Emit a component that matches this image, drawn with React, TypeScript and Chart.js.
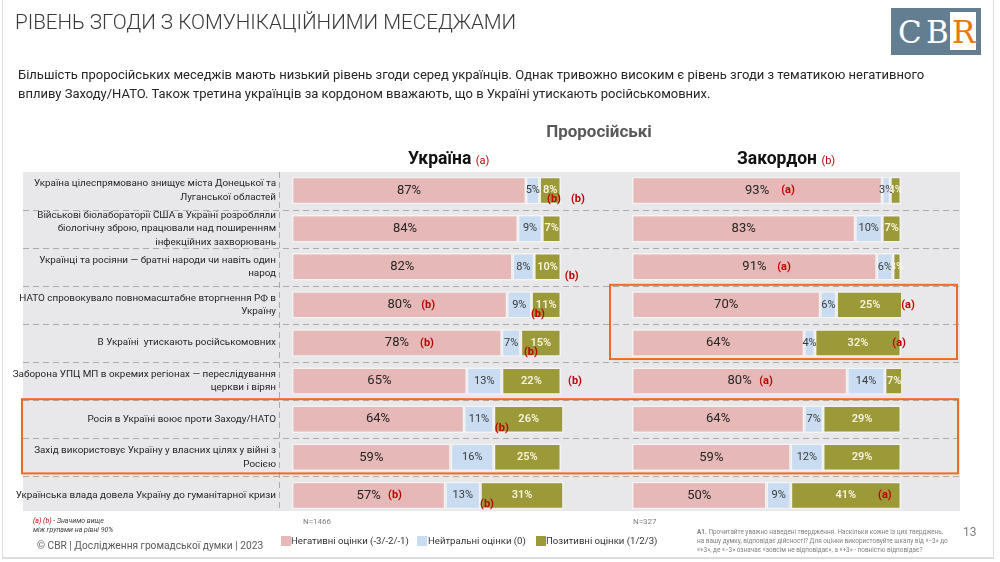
import React, { useEffect, useRef } from "react";
import { Chart, registerables } from "chart.js";
Chart.register(...registerables);

const statements: string[][] = [
  ["Україна цілеспрямовано знищує міста Донецької та", "Луганської областей"],
  ["Військові біолабораторії США в Україні розробляли", "біологічну зброю, працювали над поширенням", "інфекційних захворювань"],
  ["Українці та росіяни — братні народи чи навіть один", "народ"],
  ["НАТО спровокувало повномасштабне вторгнення РФ в", "Україну"],
  ["В Україні  утискають російськомовних"],
  ["Заборона УПЦ МП в окремих регіонах — переслідування", "церкви і вірян"],
  ["Росія в Україні воює проти Заходу/НАТО"],
  ["Захід використовує Україну у власних цілях у війні з", "Росією"],
  ["Українська влада довела Україну до гуманітарної кризи"],
];

const uaNegative = [87, 84, 82, 80, 78, 65, 64, 59, 57];
const uaNeutral = [5, 9, 8, 9, 7, 13, 11, 16, 13];
const uaPositive = [8, 7, 10, 11, 15, 22, 26, 25, 31];

const abNegative = [93, 83, 91, 70, 64, 80, 64, 59, 50];
const abNeutral = [3, 10, 6, 6, 4, 14, 7, 12, 9];
const abPositive = [4, 7, 3, 25, 32, 7, 29, 29, 41];

const seriesNames = ["Негативні оцінки (-3/-2/-1)", "Нейтральні оцінки (0)", "Позитивні оцінки (1/2/3)"];

// significance markers: row index, value position on the scale (%), lowered or not
const uaMarkers = [
  { row: 0, at: 97.4, low: true, text: "(b)" },
  { row: 0, at: 106.3, low: true, text: "(b)" },
  { row: 2, at: 104, low: true, text: "(b)" },
  { row: 3, at: 50.6, low: false, text: "(b)" },
  { row: 3, at: 91.4, low: true, text: "(b)" },
  { row: 4, at: 50.2, low: false, text: "(b)" },
  { row: 4, at: 88.8, low: true, text: "(b)" },
  { row: 5, at: 105.2, low: false, text: "(b)" },
  { row: 6, at: 78, low: true, text: "(b)" },
  { row: 8, at: 38.3, low: false, text: "(b)" },
  { row: 8, at: 72.5, low: true, text: "(b)" },
];
const abMarkers = [
  { row: 0, at: 58, low: false, text: "(a)" },
  { row: 2, at: 56.5, low: false, text: "(a)" },
  { row: 3, at: 102.6, low: false, text: "(a)" },
  { row: 4, at: 99.3, low: false, text: "(a)" },
  { row: 5, at: 49.8, low: false, text: "(a)" },
  { row: 8, at: 94, low: false, text: "(a)" },
];

const C_NEG = "#e6b8b7";
const C_NEU = "#c9dcf1";
const C_POS = "#9c9a38";
const FONT = "Roboto, 'Noto Sans', sans-serif";

const T: React.FC<{ x: number; y: number; size: number; color?: string; weight?: number; italic?: boolean; align?: "left" | "center" | "right"; children: React.ReactNode; family?: string }> = ({ x, y, size, color = "#333", weight = 400, italic, align = "left", children, family }) => {
  const style: React.CSSProperties = {
    position: "absolute",
    top: y - size * 0.6,
    fontSize: size,
    lineHeight: `${size * 1.2}px`,
    color,
    fontWeight: weight,
    fontStyle: italic ? "italic" : "normal",
    fontFamily: family || FONT,
    whiteSpace: "nowrap",
  };
  if (align === "left") style.left = x;
  else if (align === "center") { style.left = x; style.transform = "translateX(-50%)"; }
  else { style.right = 1000 - x; }
  return <div style={style}>{children}</div>;
};

export default function App() {
  const ref = useRef<HTMLCanvasElement | null>(null);

  useEffect(() => {
    document.body.style.margin = "0";
    const canvas = ref.current!;
    const bg = {
      id: "bg",
      beforeDraw(chart: any) {
        const ctx = chart.ctx;
        const y = chart.scales.y;
        ctx.save();
        ctx.fillStyle = "#e8e8ea";
        ctx.fillRect(23, 172, 937, 339);
        ctx.strokeStyle = "#ababab";
        ctx.lineWidth = 1;
        ctx.setLineDash([6, 4]);
        for (let i = 0; i < statements.length - 1; i++) {
          const yy = Math.round((y.getPixelForValue(i) + y.getPixelForValue(i + 1)) / 2) + 0.5;
          ctx.beginPath();
          ctx.moveTo(23, yy);
          ctx.lineTo(960, yy);
          ctx.stroke();
        }
        ctx.beginPath();
        ctx.moveTo(279.5, 172);
        ctx.lineTo(279.5, 511);
        ctx.stroke();
        ctx.restore();
      },
    };
    const labels = {
      id: "labels",
      afterDatasetsDraw(chart: any) {
        const ctx = chart.ctx;
        ctx.save();
        ctx.textAlign = "center";
        ctx.textBaseline = "middle";
        chart.data.datasets.forEach((ds: any, di: number) => {
          const meta = chart.getDatasetMeta(di);
          const kind = di % 3;
          meta.data.forEach((bar: any, i: number) => {
            const cx = (bar.x + bar.base) / 2;
            if (kind === 0) { ctx.font = `13px ${FONT}`; ctx.fillStyle = "#262626"; }
            else if (kind === 1) { ctx.font = `11px ${FONT}`; ctx.fillStyle = "#3a3a3a"; }
            else { ctx.font = `600 11px ${FONT}`; ctx.fillStyle = "#f6f3dc"; }
            ctx.fillText(ds.data[i] + "%", cx, bar.y);
          });
        });
        const y = chart.scales.y;
        ctx.font = `bold 11px ${FONT}`;
        ctx.fillStyle = "#c00000";
        const drawM = (list: any[], sc: any) => list.forEach((m) => {
          ctx.fillText(m.text, sc.getPixelForValue(m.at), y.getPixelForValue(m.row) + (m.low ? 9 : 0));
        });
        drawM(uaMarkers, chart.scales.xL);
        drawM(abMarkers, chart.scales.xR);
        // highlight boxes
        const b = (i: number) => (y.getPixelForValue(i) + y.getPixelForValue(i + 1)) / 2;
        ctx.strokeStyle = "#f26a21";
        ctx.lineWidth = 2;
        ctx.setLineDash([]);
        ctx.strokeRect(22, b(5) - 1, 936, b(7) - b(5) - 2);
        ctx.strokeRect(610, b(2) - 1, 347, b(4) - b(2) - 2);
        ctx.restore();
      },
    };
    const mk = (label: string, data: number[], color: string, axis: string) => ({
      label,
      data,
      backgroundColor: color,
      borderColor: "#f3f3f3",
      borderWidth: 1.5,
      borderSkipped: false,
      xAxisID: axis,
      stack: "s",
      barPercentage: 0.72,
      categoryPercentage: 1,
    });
    const chart = new Chart(canvas, {
      type: "bar",
      data: {
        labels: statements,
        datasets: [
          mk(seriesNames[0], uaNegative, C_NEG, "xL"),
          mk(seriesNames[1], uaNeutral, C_NEU, "xL"),
          mk(seriesNames[2], uaPositive, C_POS, "xL"),
          mk(seriesNames[0], abNegative, C_NEG, "xR"),
          mk(seriesNames[1], abNeutral, C_NEU, "xR"),
          mk(seriesNames[2], abPositive, C_POS, "xR"),
        ] as any,
      },
      options: {
        indexAxis: "y",
        responsive: false,
        animation: false,
        layout: { padding: { top: 171.5, bottom: 47.5, left: 0, right: 99 } },
        plugins: { legend: { display: false }, tooltip: { enabled: false } },
        scales: {
          xL: { type: "linear", min: 0, max: 226.4, stacked: true, display: false },
          xR: { type: "linear", min: -126.4, max: 100, stacked: true, display: false },
          y: {
            type: "category",
            stacked: true,
            grid: { display: false, drawTicks: false },
            border: { display: false },
            ticks: { font: { size: 9.9, family: FONT, lineHeight: 1.36 }, color: "#262626", padding: 16, autoSkip: false },
            afterFit: (s: any) => { s.width = 292; },
          },
        } as any,
      },
      plugins: [bg, labels],
    });
    return () => chart.destroy();
  }, []);

  const legend = [
    { x: 281, tx: 291, c: C_NEG, t: seriesNames[0] },
    { x: 417, tx: 428, c: C_NEU, t: seriesNames[1] },
    { x: 536, tx: 546, c: C_POS, t: seriesNames[2] },
  ];

  return (
    <div style={{ position: "fixed", left: 0, top: 0, width: 1000, height: 562, background: "#fff", overflow: "hidden" }}>
      <div style={{ position: "absolute", left: 2, top: 0, width: 992, height: 559, borderLeft: "1px solid #dcdcdc", borderRight: "1px solid #dcdcdc", borderBottom: "2px solid #dcdcdc", boxSizing: "border-box" }} />
      <canvas ref={ref} width={1000} height={562} style={{ position: "absolute", left: 0, top: 0 }} />
      <T x={15} y={22} size={20.6} weight={300} color="#3a3a3a">РІВЕНЬ ЗГОДИ З КОМУНІКАЦІЙНИМИ МЕСЕДЖАМИ</T>
      <div style={{ position: "absolute", left: 891, top: 8, width: 90, height: 47, background: "#637d91" }}>
        <div style={{ position: "absolute", left: 7, top: 4, fontFamily: "'DejaVu Serif', serif", fontSize: 31, color: "#fff", lineHeight: "40px" }}>C</div>
        <div style={{ position: "absolute", left: 35, top: 4, fontFamily: "'DejaVu Serif', serif", fontSize: 31, color: "#fff", lineHeight: "40px" }}>B</div>
        <div style={{ position: "absolute", left: 59, top: 4, width: 26, height: 38, background: "#fff" }} />
        <div style={{ position: "absolute", left: 61, top: 4, fontFamily: "'DejaVu Serif', serif", fontSize: 31, color: "#e8790f", lineHeight: "40px" }}>R</div>
      </div>
      <T x={18} y={75} size={13} color="#262626">Більшість проросійських меседжів мають низький рівень згоди серед українців. Однак тривожно високим є рівень згоди з тематикою негативного</T>
      <T x={18} y={94} size={13} color="#262626">впливу Заходу/НАТО. Також третина українців за кордоном вважають, що в Україні утискають російськомовних.</T>
      <T x={599} y={131} size={17} weight={700} color="#595959" align="center">Проросійські</T>
      <T x={408} y={158} size={17.5} weight={700} color="#111">Україна <span style={{ fontSize: 11, color: "#c00000", fontWeight: 400 }}>(a)</span></T>
      <T x={737} y={158} size={17.5} weight={700} color="#111">Закордон <span style={{ fontSize: 11, color: "#c00000", fontWeight: 400 }}>(b)</span></T>
      <T x={33} y={521} size={7} italic color="#404040"><span style={{ color: "#c00000" }}>(a) (b)</span> - Значимо вище</T>
      <T x={33} y={530} size={7} italic color="#404040">між групами на рівні 90%</T>
      <T x={37} y={546} size={10.2} color="#595959">© CBR | Дослідження громадської думки | 2023</T>
      <T x={303} y={522} size={8} color="#808080">N=1466</T>
      <T x={633} y={522} size={8} color="#808080">N=327</T>
      {legend.map((l) => (
        <React.Fragment key={l.t}>
          <div style={{ position: "absolute", left: l.x, top: 536, width: 10, height: 10, background: l.c }} />
          <T x={l.tx} y={541} size={9.6} color="#333">{l.t}</T>
        </React.Fragment>
      ))}
      <T x={697} y={533} size={6.4} color="#7f7f7f"><b>A1.</b> Прочитайте уважно наведені твердження. Наскільки кожне із цих тверджень,</T>
      <T x={697} y={542} size={6.4} color="#7f7f7f">на вашу думку, відповідає дійсності? Для оцінки використовуйте шкалу від «−3» до</T>
      <T x={697} y={551} size={6.4} color="#7f7f7f">«+3», де «−3» означає «зовсім не відповідає», а «+3» - повністю відповідає?</T>
      <T x={963} y={532} size={12} color="#7f7f7f">13</T>
    </div>
  );
}
